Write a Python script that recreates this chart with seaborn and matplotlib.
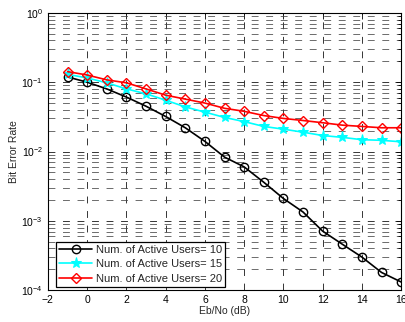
import numpy as np
import pandas as pd
import matplotlib
matplotlib.use("Agg")
import matplotlib.pyplot as plt
import seaborn as sns
from matplotlib.ticker import LogLocator, FixedLocator

sns.set_style("white")
plt.rcParams['font.family'] = ['Liberation Sans', 'DejaVu Sans']
plt.rcParams['mathtext.fontset'] = 'custom'
plt.rcParams['mathtext.rm'] = 'Liberation Sans'

ebno = list(range(-1, 17))
ber_10 = [0.119, 0.100, 0.080, 0.061, 0.045, 0.032, 0.022, 0.014, 0.0083, 0.0060,
          0.0036, 0.0021, 0.00134, 0.00071, 0.00046, 0.00030, 0.00018, 0.000131]
ber_15 = [0.130, 0.115, 0.098, 0.080, 0.068, 0.055, 0.044, 0.037, 0.031, 0.027,
          0.023, 0.021, 0.019, 0.017, 0.016, 0.0148, 0.0145, 0.0138]
ber_20 = [0.142, 0.127, 0.108, 0.098, 0.080, 0.065, 0.057, 0.050, 0.042, 0.038,
          0.033, 0.030, 0.028, 0.026, 0.024, 0.023, 0.022, 0.022]
labels = ["Num. of Active Users= 10", "Num. of Active Users= 15", "Num. of Active Users= 20"]
xticks = [-2, 0, 2, 4, 6, 8, 10, 12, 14, 16]

fig = plt.figure(figsize=(4.06, 3.22), dpi=100)
ax = fig.add_axes([0.118, 0.099, 0.870, 0.861])

styles = [
    dict(color="black", marker="o", markersize=6, markerfacecolor="none", markeredgecolor="black", markeredgewidth=1.0),
    dict(color="cyan", marker="*", markersize=8, markerfacecolor="cyan", markeredgecolor="cyan"),
    dict(color="red", marker="D", markersize=5, markerfacecolor="none", markeredgecolor="red", markeredgewidth=1.0),
]
for ys, lab, st in zip([ber_10, ber_15, ber_20], labels, styles):
    df = pd.DataFrame({"x": ebno, "y": ys})
    sns.lineplot(data=df, x="x", y="y", ax=ax, label=lab, linewidth=1.2, **st)

ax.set_yscale("log")
ax.set_xlim(-2, 16)
ax.set_ylim(1e-4, 1)
ax.xaxis.set_major_locator(FixedLocator(xticks))
ax.yaxis.set_major_locator(LogLocator(base=10, numticks=10))
ax.yaxis.set_minor_locator(LogLocator(base=10, subs=np.arange(2, 10), numticks=20))

dash = (0, (9, 10))
ax.grid(True, which="major", axis="both", color="black", linestyle=dash, linewidth=0.55)
ax.grid(True, which="minor", axis="y", color="#444444", linestyle=dash, linewidth=0.55)
ax.set_axisbelow(True)

ax.tick_params(which="both", direction="in", top=True, right=True, labelsize=7.5, colors="black")
ax.tick_params(which="major", length=4, width=0.6)
ax.tick_params(which="minor", length=2, width=0.6)
for s in ax.spines.values():
    s.set_color("black")
    s.set_linewidth(0.8)

ax.set_xlabel("Eb/No (dB)", fontsize=7.5, labelpad=1)
ax.set_ylabel("Bit Error Rate", fontsize=7.5, labelpad=2)

leg = ax.legend(loc="lower left", fontsize=8, frameon=True, fancybox=False,
                edgecolor="black", framealpha=1, handlelength=3.0, borderpad=0.3,
                labelspacing=0.4, handletextpad=0.3, borderaxespad=0,
                bbox_to_anchor=(0.022, 0.011))
leg.get_frame().set_linewidth(0.9)

fig.savefig("out.png", dpi=100)
